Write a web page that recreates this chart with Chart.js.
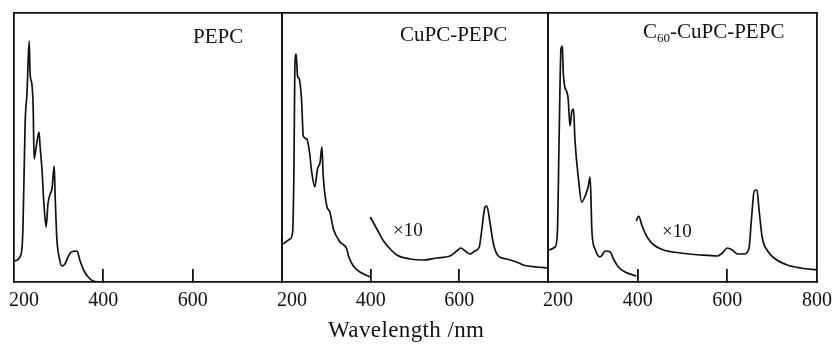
<!DOCTYPE html>
<html>
<head>
<meta charset="utf-8">
<script src="https://cdn.jsdelivr.net/npm/chart.js@4.4.0/dist/chart.umd.min.js"></script>
<style>
  html, body { margin: 0; padding: 0; background: #fff; overflow: hidden; }
  #wrap { position: relative; width: 835px; height: 349px; overflow: hidden; }
  canvas { position: absolute; top: 0; }
  .lbl { position: absolute; font-family: "Liberation Serif", "Times New Roman", serif; color: #111; white-space: nowrap; line-height: 1; }
</style>
</head>
<body>
<div id="wrap">
  <canvas id="c1" width="370" height="349" style="left:-36px"></canvas>
  <canvas id="c2" width="370" height="349" style="left:232px"></canvas>
  <canvas id="c3" width="370" height="349" style="left:498px"></canvas>

  <div class="lbl" style="left:193px; top:26px; font-size:21px;">PEPC</div>
  <div class="lbl" style="left:400px; top:24px; font-size:21px;">CuPC-PEPC</div>
  <div class="lbl" style="left:643px; top:21px; font-size:21px;">C<sub style="font-size:13px; vertical-align:-4px;">60</sub>-CuPC-PEPC</div>
  <div class="lbl" style="left:393px; top:220px; font-size:19px;">×10</div>
  <div class="lbl" style="left:662px; top:221px; font-size:19px;">×10</div>
  <div class="lbl" style="left:328px; top:318px; font-size:23px; letter-spacing:0.4px;">Wavelength /nm</div>
</div>
<script>
// --------------------
// Data (wavelength in nm, absorbance in arbitrary units)
// --------------------
const tickValues = [200, 400, 600, 800];

// PEPC
const pepcWl  = [202, 216, 220, 225, 229, 234, 236, 240, 243, 245, 249, 256, 258, 263, 267, 272, 276, 281, 285, 290, 292, 296, 301, 307, 314, 321, 328, 341, 348, 357, 366, 377, 393];
const pepcAbs = [21, 28, 53, 160, 188, 241, 208, 198, 173, 123, 133, 150, 138, 110, 78, 55, 78, 88, 93, 116, 88, 43, 25, 16, 18, 25, 30, 31, 21, 11, 5, 1, 0];

// CuPC-PEPC
const cupcWl  = [203, 218, 224, 227, 229, 232, 235, 239, 244, 248, 256, 262, 267, 274, 280, 286, 290, 293, 301, 308, 316, 331, 346, 350, 361, 376, 399];
const cupcAbs = [38, 43, 50, 116, 216, 228, 206, 203, 183, 146, 143, 130, 110, 95, 113, 120, 135, 106, 76, 70, 53, 40, 33, 26, 16, 10, 5];
// CuPC-PEPC x10
const cupcX10Wl  = [399, 414, 429, 444, 459, 489, 519, 549, 579, 594, 603, 613, 624, 635, 645, 650, 658, 662, 669, 677, 688, 707, 729, 744, 774, 800];
const cupcX10Abs = [65, 53, 41, 33, 27, 23, 22, 24, 26, 31, 34, 31, 28, 31, 35, 50, 75, 76, 60, 38, 26, 23, 20, 17, 15, 14];

// C60-CuPC-PEPC
const c60Wl  = [201, 216, 221, 225, 229, 232, 234, 237, 242, 245, 249, 253, 257, 260, 268, 275, 283, 290, 294, 298, 305, 316, 328, 339, 346, 357, 372, 397];
const c60Abs = [32, 35, 50, 150, 233, 236, 210, 196, 190, 183, 156, 170, 173, 143, 103, 80, 86, 96, 105, 50, 33, 25, 31, 30, 23, 15, 10, 6];
// C60-CuPC-PEPC x10
const c60X10Wl  = [397, 402, 410, 421, 436, 458, 496, 540, 578, 589, 600, 611, 623, 637, 648, 654, 660, 666, 671, 678, 690, 704, 734, 764, 800];
const c60X10Abs = [61, 66, 56, 45, 37, 32, 29, 27, 26, 29, 34, 32, 28, 28, 33, 64, 91, 92, 71, 44, 31, 24, 17, 14, 12];

const toPoints = (xs, ys) => xs.map((x, i) => ({ x: x, y: ys[i] }));

// --------------------
// One panel = one chart
// --------------------
const FONT = "'Liberation Serif', 'Times New Roman', serif";
const INK = "#111";
const PANEL_LEFT = 50;   // chart area offset inside each canvas (room for tick label overflow)

function line(xs, ys) {
  return {
    data: toPoints(xs, ys),
    borderColor: INK,
    borderWidth: 1.7,
    pointRadius: 0,
    cubicInterpolationMode: "monotone",
    fill: false
  };
}

function makePanel(id, panelWidth, datasets, lastTick) {
  const canvas = document.getElementById(id);
  const frame = { display: true, color: INK, width: 1.8 };
  const noGrid = { display: false, drawTicks: false };
  const noTicks = { display: false };
  return new Chart(canvas, {
    type: "line",
    data: { datasets: datasets },
    options: {
      responsive: false,
      animation: false,
      events: [],
      layout: { padding: { left: PANEL_LEFT, right: canvas.width - PANEL_LEFT - panelWidth, top: 13, bottom: 16 } },
      plugins: { legend: { display: false }, tooltip: { enabled: false } },
      scales: {
        x: {
          type: "linear", position: "bottom", min: 200, max: 800,
          afterBuildTicks: axis => {
            axis.ticks = tickValues.filter(v => v < 800 || lastTick).map(v => ({ value: v }));
          },
          border: frame,
          grid: {
            drawOnChartArea: false, drawTicks: true, tickLength: -13, lineWidth: 1.8,
            color: ctx => (ctx.tick && (ctx.tick.value === 400 || ctx.tick.value === 600)) ? INK : "rgba(0,0,0,0)"
          },
          ticks: {
            color: INK, padding: 20, maxRotation: 0, autoSkip: false,
            font: { family: FONT, size: 20 },
            callback: v => v === 200 ? "\u00a0\u00a0\u00a0\u00a0200" : String(v)
          }
        },
        xTop: { type: "linear", position: "top", min: 200, max: 800, border: frame, grid: noGrid, ticks: noTicks },
        y: { type: "linear", position: "left", min: 0, max: 269, border: frame, grid: noGrid, ticks: noTicks },
        yRight: { type: "linear", position: "right", min: 0, max: 269, border: frame, grid: noGrid, ticks: noTicks }
      }
    }
  });
}

makePanel("c1", 268, [line(pepcWl, pepcAbs)], false);
makePanel("c2", 266, [line(cupcWl, cupcAbs), line(cupcX10Wl, cupcX10Abs)], false);
makePanel("c3", 269, [line(c60Wl, c60Abs), line(c60X10Wl, c60X10Abs)], true);
</script>
</body>
</html>
